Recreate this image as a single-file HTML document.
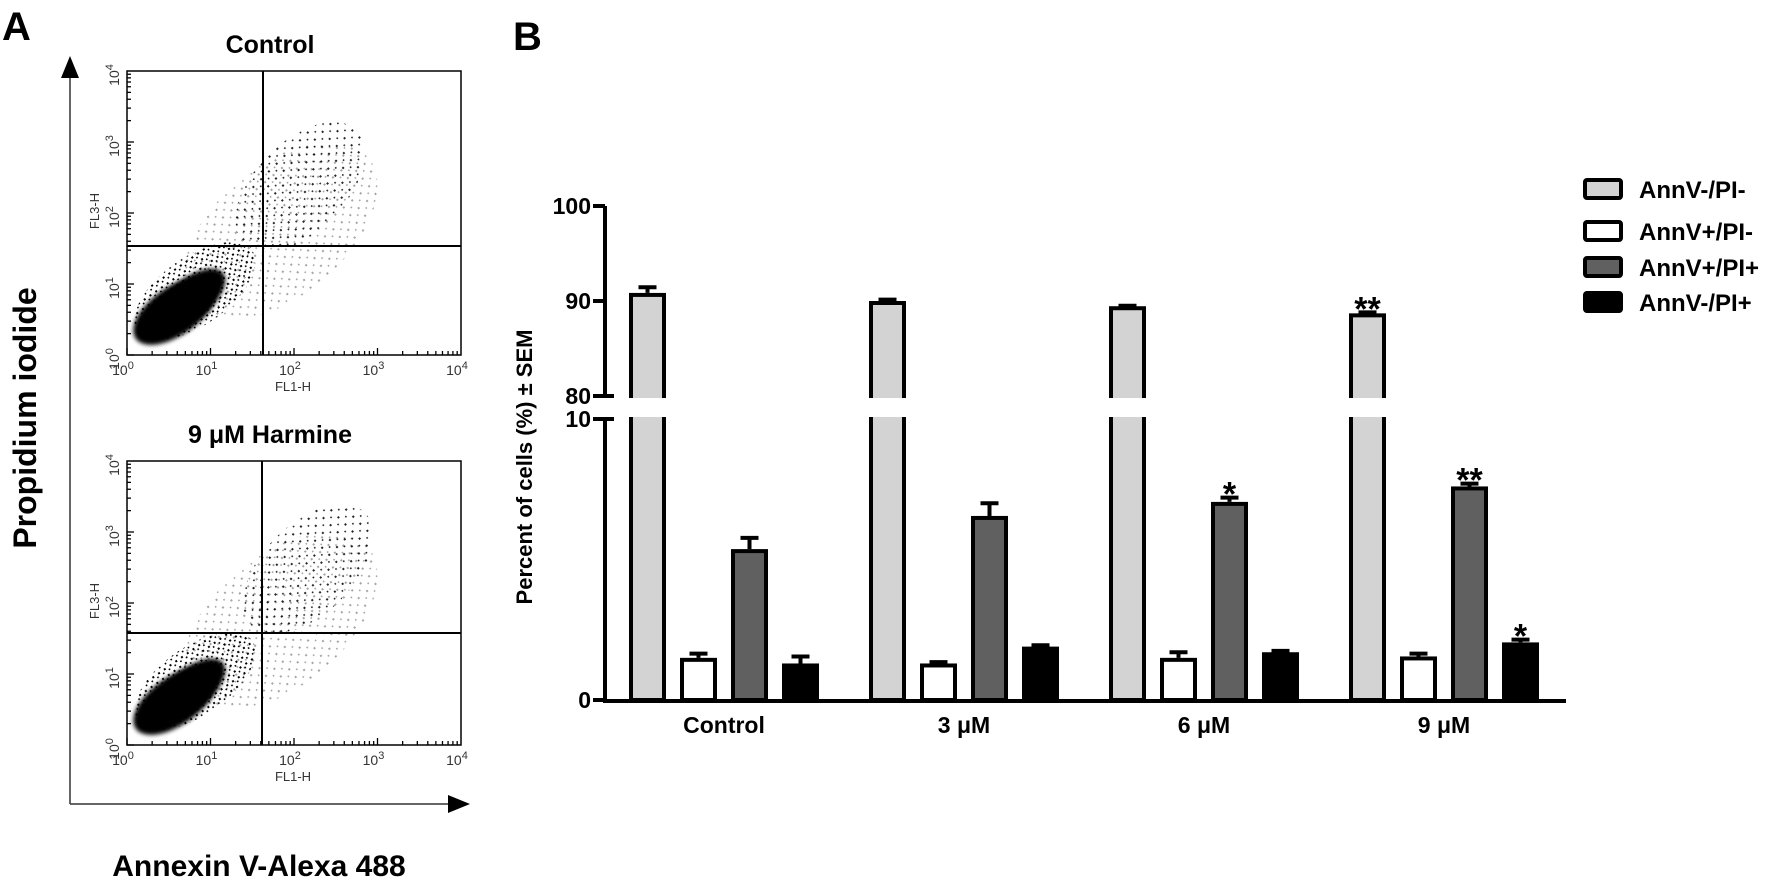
<!DOCTYPE html>
<html><head><meta charset="utf-8"><style>
html,body{margin:0;padding:0;background:#fff;}
svg{display:block;font-family:"Liberation Sans",Arial,sans-serif;}
</style></head><body>
<svg id="fig" width="1772" height="885" viewBox="0 0 1772 885" xmlns="http://www.w3.org/2000/svg">
<defs>
<pattern id="dots" width="7" height="7" patternUnits="userSpaceOnUse"><rect x="1" y="2" width="2" height="2" fill="#000"/><rect x="5" y="5" width="1.6" height="1.6" fill="#000"/></pattern>
<pattern id="dotsSparse" width="11" height="10" patternUnits="userSpaceOnUse"><rect x="2" y="3" width="2" height="2" fill="#000"/><rect x="8" y="8" width="1.6" height="1.6" fill="#000"/></pattern>
<filter id="soft"><feGaussianBlur stdDeviation="2"/></filter>
</defs>
<text x="2" y="40" font-size="40" font-weight="bold">A</text>
<text x="513" y="50" font-size="40" font-weight="bold">B</text>
<g id="panelA"></g>
<g id="panelB"></g>
</svg>
<script>
// ---- Panel B data ----
const categories = ['Control', '3 \u03bcM', '6 \u03bcM', '9 \u03bcM'];
const seriesNames = ['AnnV-/PI-', 'AnnV+/PI-', 'AnnV+/PI+', 'AnnV-/PI+'];
const valsLive = [90.85, 90.0, 89.45, 88.7];
const errLive = [0.6, 0.15, 0.05, 0.1];
const valsEarly = [1.5, 1.3, 1.5, 1.55];
const errEarly = [0.15, 0.05, 0.2, 0.1];
const valsLate = [5.37, 6.55, 7.05, 7.6];
const errLate = [0.4, 0.45, 0.15, 0.1];
const valsNec = [1.3, 1.9, 1.7, 2.05];
const errNec = [0.25, 0.05, 0.05, 0.1];
const starsLive = ['', '', '', '**'];
const starsEarly = ['', '', '', ''];
const starsLate = ['', '', '*', '**'];
const starsNec = ['', '', '', '*'];
const yTicks = [0, 10, 80, 90, 100];

const NS = 'http://www.w3.org/2000/svg';
function mk(parent, tag, attrs, text) {
  const e = document.createElementNS(NS, tag);
  for (const k in attrs) e.setAttribute(k, attrs[k]);
  if (text !== undefined) e.textContent = text;
  parent.appendChild(e);
  return e;
}
function yScale(v) { return v >= 80 ? 396 - (v - 80) * 9.5 : 700 - v * 28.1; }
function xBar(gi, si) { return 629 + gi * 240 + si * 51; }

const B = document.getElementById('panelB');
const series = [
  {vals: valsLive, errs: errLive, stars: starsLive, fill: '#d3d3d3'},
  {vals: valsEarly, errs: errEarly, stars: starsEarly, fill: '#ffffff'},
  {vals: valsLate, errs: errLate, stars: starsLate, fill: '#606060'},
  {vals: valsNec, errs: errNec, stars: starsNec, fill: '#000000'}
];
const BW = 37;
series.forEach((s, si) => {
  s.vals.forEach((v, gi) => {
    const x = xBar(gi, si);
    const yt = yScale(v);
    const ye = yScale(v + s.errs[gi]);
    const cx = x + BW / 2;
    const eb = mk(B, 'path', {d: `M${cx} ${yt} L${cx} ${ye} M${cx - 9} ${ye} L${cx + 9} ${ye}`, stroke: '#000', 'stroke-width': 4, fill: 'none'});
    
    
    const r = mk(B, 'rect', {x: x + 2, y: yt + 2, width: BW - 4, height: 700 - yt - 2, fill: s.fill, stroke: '#000', 'stroke-width': 4});
    
    
    if (s.stars[gi]) {
      const t = mk(B, 'text', {x: cx, y: ye + 8, 'text-anchor': 'middle', 'font-size': 34, 'font-weight': 'bold'}, s.stars[gi]);
      
      
    }
  });
});
// break gap
const gap = mk(B, 'rect', {x: 600, y: 398, width: 970, height: 19, fill: '#fff'});


// axes
const ya = mk(B, 'path', {d: 'M605 206 L605 397 M605 419 L605 703', stroke: '#000', 'stroke-width': 4, fill: 'none'});


const xa = mk(B, 'line', {x1: 603, y1: 701, x2: 1566, y2: 701, stroke: '#000', 'stroke-width': 4});


yTicks.forEach(v => {
  const y = yScale(v);
  const brk = (v === 80 || v === 10);
  const tk = mk(B, 'line', {x1: 593, y1: y, x2: brk ? 614 : 605, y2: y, stroke: '#000', 'stroke-width': 4});
  
  
  const tl = mk(B, 'text', {x: 591, y: y + 8, 'text-anchor': 'end', 'font-size': 23, 'font-weight': 'bold'}, String(v));
  
  
});
categories.forEach((c, gi) => {
  const t = mk(B, 'text', {x: xBar(gi, 0) + 95, y: 733, 'text-anchor': 'middle', 'font-size': 23, 'font-weight': 'bold'}, c);
  
  
});
const yt = mk(B, 'text', {x: 0, y: 0, transform: 'translate(532,467) rotate(-90)', 'text-anchor': 'middle', 'font-size': 22, 'font-weight': 'bold'}, 'Percent of cells (%)  \u00b1 SEM');


const legY = [189, 231, 267, 302];
seriesNames.forEach((n, si) => {
  const sw = mk(B, 'rect', {x: 1585, y: legY[si] - 9, width: 36, height: 18, fill: series[si].fill, stroke: '#000', 'stroke-width': 4, rx: 2});
  
  
  const lt = mk(B, 'text', {x: 1639, y: legY[si] + 9, 'font-size': 24, 'font-weight': 'bold'}, n);
  
  
});

// ---- Panel A (flow cytometry dot plots) ----
const A = document.getElementById('panelA');
const decades = [0, 1, 2, 3, 4];
const plotTops = [71, 461];
const plotTitles = ['Control', '9 \u03bcM Harmine'];
const quadX = [263, 262];
const quadY = [246, 633 - 390];
plotTops.forEach((top, pi) => {
  const L = 127, R = 461, T = top, Bt = top + 284;
  const g = mk(A, 'g', {});
  
  
  const ttl = mk(g, 'text', {x: 270, y: T - 18, 'text-anchor': 'middle', 'font-size': 25, 'font-weight': 'bold'}, plotTitles[pi]);
  
  
  const off = pi === 0 ? 0 : 8;
  mk(g, 'ellipse', {cx: 300 + off, cy: T + 116 - off, rx: 80, ry: 45, transform: `rotate(-45 ${300 + off} ${T + 116 - off})`, fill: 'url(#dotsSparse)', opacity: 0.85});
  mk(g, 'ellipse', {cx: 280, cy: T + 160, rx: 115, ry: 65, transform: `rotate(-40 280 ${T + 160})`, fill: 'url(#dotsSparse)', opacity: 0.35});
  mk(g, 'ellipse', {cx: 195, cy: T + 220, rx: 70, ry: 34, transform: `rotate(-35 195 ${T + 220})`, fill: 'url(#dots)'});
  mk(g, 'ellipse', {cx: 175, cy: T + 240, rx: 48, ry: 24, transform: `rotate(-35 175 ${T + 240})`, fill: '#000', filter: 'url(#soft)'});
  mk(g, 'ellipse', {cx: 190, cy: T + 228, rx: 42, ry: 20, transform: `rotate(-38 190 ${T + 228})`, fill: '#000', filter: 'url(#soft)'});
  mk(g, 'rect', {x: L, y: T, width: R - L, height: Bt - T, fill: 'none', stroke: '#000', 'stroke-width': 1.5});
  mk(g, 'line', {x1: quadX[pi], y1: T, x2: quadX[pi], y2: Bt, stroke: '#000', 'stroke-width': 2});
  mk(g, 'line', {x1: L, y1: T + (quadY[pi] - 71), x2: R, y2: T + (quadY[pi] - 71), stroke: '#000', 'stroke-width': 2});
  decades.forEach(d => {
    const x = L + d * 83.5, y = Bt - d * 71;
    const xl = mk(g, 'text', {x: x - 4, y: Bt + 20, 'text-anchor': 'middle', 'font-size': 14, fill: '#333'});
    xl.innerHTML = '10<tspan dy="-6" font-size="11">' + d + '</tspan>';
    
    
    const yl = mk(g, 'text', {transform: `translate(${L - 8},${y + 4}) rotate(-90)`, 'text-anchor': 'middle', 'font-size': 14, fill: '#333'});
    yl.innerHTML = '10<tspan dy="-6" font-size="11">' + d + '</tspan>';
    
    
    if (d < 4) for (let m = 1; m <= 9; m++) {
      const lx = x + Math.log10(m) * 83.5, ly = y - Math.log10(m) * 71;
      const len = m === 1 ? 7 : 4;
      mk(g, 'line', {x1: lx, y1: Bt, x2: lx, y2: Bt - len, stroke: '#000', 'stroke-width': 1.3});
      mk(g, 'line', {x1: L, y1: ly, x2: L + len, y2: ly, stroke: '#000', 'stroke-width': 1.3});
    }
  });
  const fx = mk(g, 'text', {x: 293, y: Bt + 36, 'text-anchor': 'middle', 'font-size': 13, fill: '#333'}, 'FL1-H');
  
  
  const fy = mk(g, 'text', {transform: `translate(${L - 28},${T + 140}) rotate(-90)`, 'text-anchor': 'middle', 'font-size': 13, fill: '#333'}, 'FL3-H');
  
  
});
const arr = mk(A, 'path', {d: 'M70 804 L70 70 M70 804 L455 804', stroke: '#333', 'stroke-width': 1.5, fill: 'none'});


mk(A, 'polygon', {points: '61,78 79,78 70,56', fill: '#000'});
mk(A, 'polygon', {points: '448,795 448,813 470,804', fill: '#000'});
const pi1 = mk(A, 'text', {transform: 'translate(36,418) rotate(-90)', 'text-anchor': 'middle', 'font-size': 32, 'font-weight': 'bold'}, 'Propidium iodide');


const an = mk(A, 'text', {x: 259, y: 876, 'text-anchor': 'middle', 'font-size': 30, 'font-weight': 'bold'}, 'Annexin V-Alexa 488');


</script>
</body></html>
